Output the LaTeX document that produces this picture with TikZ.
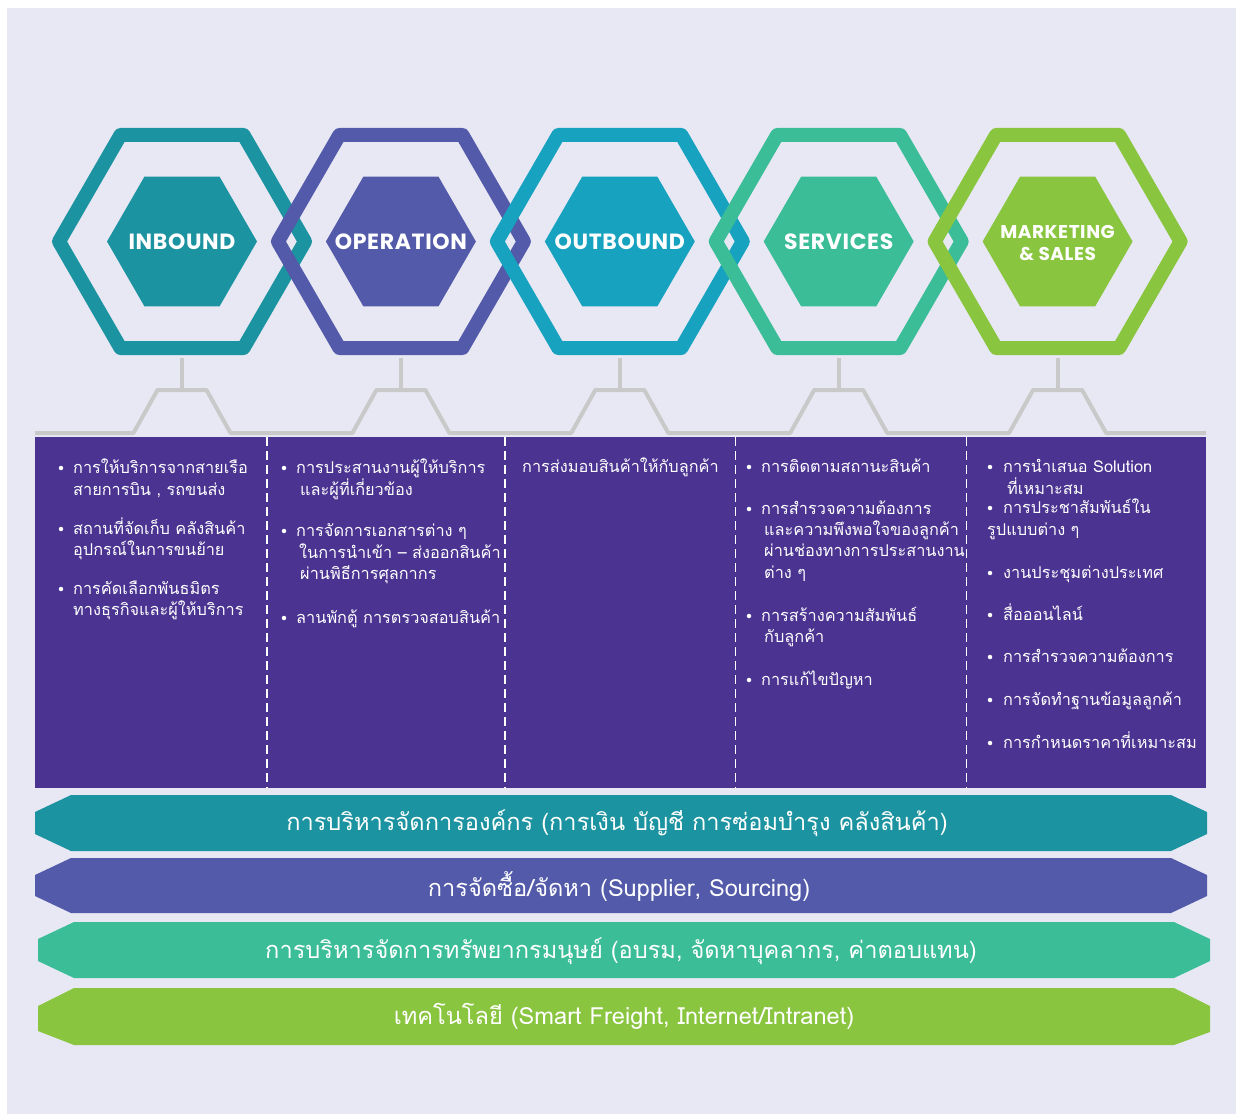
\documentclass[tikz,border=0pt]{standalone}
\usepackage{fontspec}
\usetikzlibrary{shapes.geometric}
\newfontfamily\thaifont[Script=Thai]{Loma}
\newfontfamily\hexfont[LetterSpace=3]{Poppins}
\definecolor{bgc}{HTML}{E8E8F4}
\definecolor{cin}{HTML}{1C93A0}
\definecolor{cop}{HTML}{525AA9}
\definecolor{cout}{HTML}{17A2C0}
\definecolor{csv}{HTML}{3BBD97}
\definecolor{cmk}{HTML}{8AC540}
\definecolor{cpanel}{HTML}{4A3391}
\definecolor{cgray}{HTML}{C9C9C9}
\begin{document}
\begin{tikzpicture}[x=1pt,y=-1pt,
  ring/.style={regular polygon, regular polygon sides=6, minimum size=246pt,
    inner sep=0pt, line width=14pt, line join=round},
  core/.style={regular polygon, regular polygon sides=6, minimum size=150pt,
    inner sep=0pt},
  hexlabel/.style={text=white, inner sep=0pt, align=center,
    font=\hexfont\bfseries\fontsize{22}{22}\selectfont},
  conn/.style={draw=cgray, line width=4pt, line join=round},
  coltxt/.style={anchor=base west, inner sep=0pt, text=white,
    font=\thaifont\fontsize{16.3}{20}\selectfont},
  bul/.style={circle, fill=white, inner sep=0pt, minimum size=4.5pt},
  sep/.style={draw=white, line width=1.5pt, dash pattern=on 9pt off 5pt},
  bandtxt/.style={text=white, inner sep=0pt,
    font=\thaifont\fontsize{23.6}{26}\selectfont}]
\useasboundingbox (0,0) rectangle (1236,1114);
\fill[white] (0,0) rectangle (1236,1114);
\fill[bgc] (7,8) rectangle (1236,1114);

% interlocking outline hexagons, each one laid over the previous one
\node[ring, draw=cin]  (r1) at (182,241.5) {};
\node[ring, draw=cop]  (r2) at (400.9,241.5) {};
\node[ring, draw=cout] (r3) at (619.8,241.5) {};
\node[ring, draw=csv]  (r4) at (838.7,241.5) {};
\node[ring, draw=cmk]  (r5) at (1057.6,241.5) {};

% filled core hexagons with their titles
\node[core, fill=cin]  (h1) at (r1.center) {};
\node[core, fill=cop]  (h2) at (r2.center) {};
\node[core, fill=cout] (h3) at (r3.center) {};
\node[core, fill=csv]  (h4) at (r4.center) {};
\node[core, fill=cmk]  (h5) at (r5.center) {};
\node[hexlabel] (l1) at (h1) {INBOUND};
\node[hexlabel] (l2) at (h2) {OPERATION};
\node[hexlabel] (l3) at (h3) {OUTBOUND};
\node[hexlabel] (l4) at (h4) {SERVICES};
\node[hexlabel, font=\hexfont\bfseries\fontsize{18.5}{22}\selectfont] (l5) at ([yshift=-2pt]h5) {MARKETING\\\& SALES};

% stems from each hexagon down to the bracket line
\coordinate (t1) at (182,390);
\coordinate (t2) at (400.9,390);
\coordinate (t3) at (619.8,390);
\coordinate (t4) at (838.7,390);
\coordinate (t5) at (1057.6,390);
\foreach \i in {1,...,5} \draw[conn] ([yshift=-3pt]r\i.south) -- (t\i);
\draw[conn] (35,433)
  -- (133.5,433) -- (157.5,390) -- (206.5,390) -- (230.5,433)
  -- (352.4,433) -- (376.4,390) -- (425.4,390) -- (449.4,433)
  -- (571.3,433) -- (595.3,390) -- (644.3,390) -- (668.3,433)
  -- (790.2,433) -- (814.2,390) -- (863.2,390) -- (887.2,433)
  -- (1009.1,433) -- (1033.1,390) -- (1082.1,390) -- (1106.1,433)
  -- (1206,433);

% purple detail panel with dashed column dividers
\fill[cpanel] (35,437) rectangle (1206,788);
\foreach \x in {267,505,735.5,966.5} \draw[sep] (\x,437) -- (\x,788);

% column 1
\node[bul] (b11) at (61,468) {};
\node[coltxt] (c11a) at (73,473) {การให้บริการจากสายเรือ};
\node[coltxt] (c11b) at (73,495) {สายการบิน , รถขนส่ง};
\node[bul] (b12) at (61,529) {};
\node[coltxt] (c12a) at (73,534) {สถานที่จัดเก็บ คลังสินค้า};
\node[coltxt] (c12b) at (73,555) {อุปกรณ์ในการขนย้าย};
\node[bul] (b13) at (61,589) {};
\node[coltxt] (c13a) at (73,594) {การคัดเลือกพันธมิตร};
\node[coltxt] (c13b) at (73,615) {ทางธุรกิจและผู้ให้บริการ};

% column 2
\node[bul] (b21) at (284,468) {};
\node[coltxt] (c21a) at (296,473) {การประสานงานผู้ให้บริการ};
\node[coltxt] (c21b) at (300,495) {และผู้ที่เกี่ยวข้อง};
\node[bul] (b22) at (284,531) {};
\node[coltxt] (c22a) at (296,536) {การจัดการเอกสารต่าง ๆ};
\node[coltxt] (c22b) at (299,558) {ในการนำเข้า – ส่งออกสินค้า};
\node[coltxt] (c22c) at (300,579) {ผ่านพิธีการศุลกากร};
\node[bul] (b23) at (284,618) {};
\node[coltxt] (c23a) at (296,623) {ลานพักตู้ การตรวจสอบสินค้า};

% column 3
\node[coltxt] (c31a) at (522,472) {การส่งมอบสินค้าให้กับลูกค้า};

% column 4
\node[bul] (b41) at (749,467) {};
\node[coltxt] (c41a) at (761,472) {การติดตามสถานะสินค้า};
\node[bul] (b42) at (749,509) {};
\node[coltxt] (c42a) at (761,514) {การสำรวจความต้องการ};
\node[coltxt] (c42b) at (764,535) {และความพึงพอใจของลูกค้า};
\node[coltxt] (c42c) at (764,556) {ผ่านช่องทางการประสานงาน};
\node[coltxt] (c42d) at (764,578) {ต่าง ๆ};
\node[bul] (b43) at (749,616) {};
\node[coltxt] (c43a) at (761,621) {การสร้างความสัมพันธ์};
\node[coltxt] (c43b) at (764,642) {กับลูกค้า};
\node[bul] (b44) at (749,680) {};
\node[coltxt] (c44a) at (761,685) {การแก้ไขปัญหา};

% column 5
\node[bul] (b51) at (990,467) {};
\node[coltxt] (c51a) at (1003,472) {การนำเสนอ Solution};
\node[coltxt] (c51b) at (1007,494) {ที่เหมาะสม};
\node[bul] (b52) at (990,508) {};
\node[coltxt] (c52a) at (1003,513) {การประชาสัมพันธ์ใน};
\node[coltxt] (c52b) at (987,535) {รูปแบบต่าง ๆ};
\node[bul] (b53) at (990,573) {};
\node[coltxt] (c53a) at (1003,578) {งานประชุมต่างประเทศ};
\node[bul] (b54) at (990,615) {};
\node[coltxt] (c54a) at (1003,620) {สื่อออนไลน์};
\node[bul] (b55) at (990,657) {};
\node[coltxt] (c55a) at (1003,662) {การสำรวจความต้องการ};
\node[bul] (b56) at (990,700) {};
\node[coltxt] (c56a) at (1003,705) {การจัดทำฐานข้อมูลลูกค้า};
\node[bul] (b57) at (990,743) {};
\node[coltxt] (c57a) at (1003,748) {การกำหนดราคาที่เหมาะสม};

% support activity bands with pointed ends
\fill[cin] (71,795) -- (1171,795) -- (1207,812) -- (1207,834) -- (1171,851)
  -- (71,851) -- (35,834) -- (35,812) -- cycle;
\fill[cop] (71,858) -- (1171,858) -- (1207,875) -- (1207,896) -- (1171,913)
  -- (71,913) -- (35,896) -- (35,875) -- cycle;
\fill[csv] (74,922) -- (1174,922) -- (1210,939) -- (1210,961) -- (1174,978)
  -- (74,978) -- (38,961) -- (38,939) -- cycle;
\fill[cmk] (74,988) -- (1174,988) -- (1210,1006) -- (1210,1032) -- (1174,1045)
  -- (74,1045) -- (38,1031) -- (38,1006) -- cycle;
\node[bandtxt] (s1) at (617,823) {การบริหารจัดการองค์กร (การเงิน บัญชี การซ่อมบำรุง คลังสินค้า)};
\node[bandtxt] (s2) at (619,886) {การจัดซื้อ/จัดหา (Supplier, Sourcing)};
\node[bandtxt] (s3) at (621,951) {การบริหารจัดการทรัพยากรมนุษย์ (อบรม, จัดหาบุคลากร, ค่าตอบแทน)};
\node[bandtxt] (s4) at (624,1016) {เทคโนโลยี (Smart Freight, Internet/Intranet)};
\end{tikzpicture}
\end{document}
